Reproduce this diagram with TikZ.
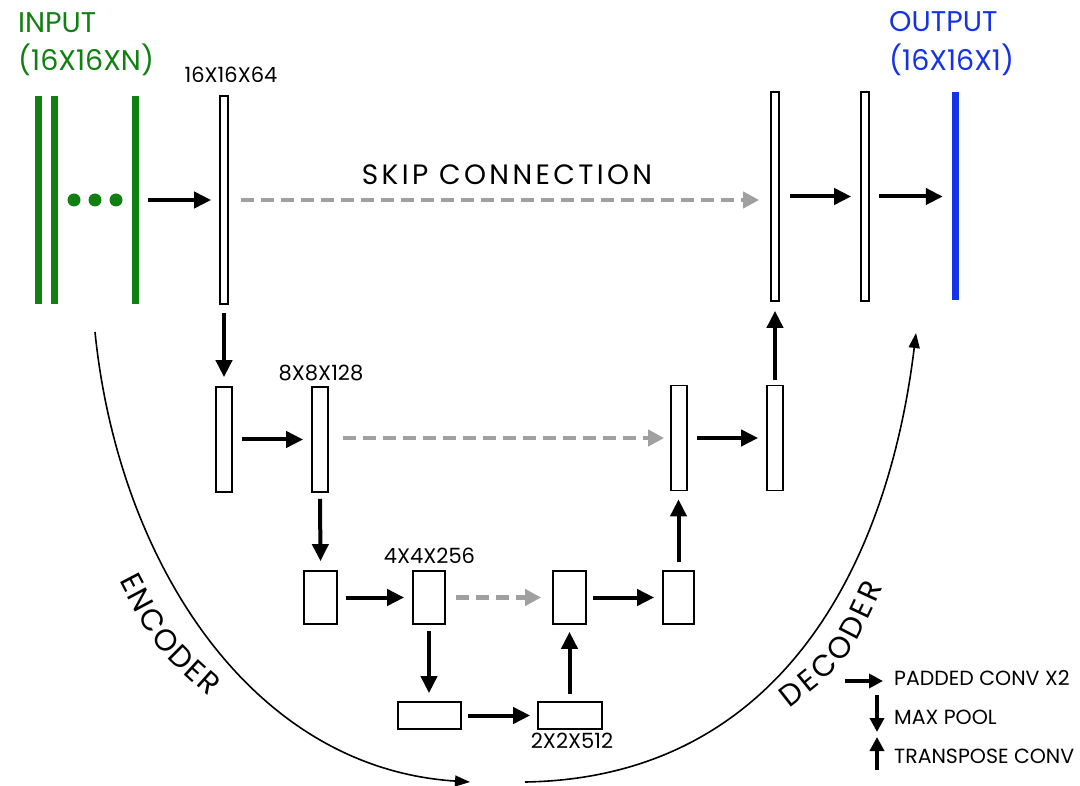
\documentclass[tikz,border=0pt]{standalone}
\usepackage{fontspec}
\setmainfont{Poppins}
\usetikzlibrary{arrows.meta,decorations.text}
\definecolor{ingreen}{RGB}{16,128,16}
\definecolor{outblue}{RGB}{20,50,230}
\definecolor{skipgray}{RGB}{160,160,160}
\begin{document}
\begin{tikzpicture}[x=1pt,y=-1pt,
  box/.style={draw, line width=1.7pt, inner sep=0pt, fill=white},
  bar/.style={draw=none, inner sep=0pt, minimum width=7pt, minimum height=208pt},
  conv/.style={line width=4pt, -{Triangle[length=17pt,width=16pt]}},
  skipline/.style={draw=skipgray, line width=4.5pt, dash pattern=on 13pt off 7pt, -{Triangle[length=16pt,width=16pt,fill=skipgray]}},
  arcline/.style={line width=1.6pt, -{Triangle[length=15pt,width=11pt]}},
  legarrow/.style={line width=4pt, -{Triangle[length=14pt,width=14pt]}},
  lbl/.style={inner sep=0pt, font=\fontsize{21}{21}\selectfont},
  big/.style={inner sep=0pt, font=\fontsize{28.5}{28.5}\selectfont},
  leg/.style={inner sep=0pt, anchor=base west, font=\fontsize{20.5}{20.5}\selectfont}]
\useasboundingbox (0,0) rectangle (1080,786);
% input bars
\node[bar, fill=ingreen] (g1) at (38.5,200) {};
\node[bar, fill=ingreen] (g2) at (54.5,200) {};
\node[bar, fill=ingreen] (g3) at (135.5,200) {};
\fill[ingreen] (74,200) circle (6.5pt) (95,200) circle (6.5pt) (116,200) circle (6.5pt);
\node[big, anchor=base west, text=ingreen] (tin1) at (18,33) {INPUT};
\node[big, anchor=base west, text=ingreen] (tin2) at (18,71) {(16X16XN)};
\node[big, anchor=base west, text=outblue] (tout1) at (889,32) {OUTPUT};
\node[big, anchor=base west, text=outblue] (tout2) at (889,71) {(16X16X1)};
% level 1
\node[box, minimum width=8pt, minimum height=208pt] (b1) at (224,200) {};
\node[box, minimum width=8pt, minimum height=209pt] (r1) at (775,196.5) {};
\node[box, minimum width=8pt, minimum height=209pt] (r2) at (865,196.5) {};
\node[bar, fill=outblue] (out) at (955.5,196) {};
% level 2
\node[box, minimum width=16pt, minimum height=105pt] (a2) at (224,439.5) {};
\node[box, minimum width=16pt, minimum height=105pt] (b2) at (320,439.5) {};
\node[box, minimum width=16pt, minimum height=105pt] (c2) at (679,438) {};
\node[box, minimum width=16pt, minimum height=105pt] (d2) at (775,438) {};
% level 3
\node[box, minimum width=33pt, minimum height=53pt] (e3) at (320.5,597.5) {};
\node[box, minimum width=32pt, minimum height=53pt] (f3) at (429,597.5) {};
\node[box, minimum width=33pt, minimum height=53pt] (g3b) at (569.5,597.5) {};
\node[box, minimum width=31pt, minimum height=53pt] (h3) at (678.5,597.5) {};
% level 4
\node[box, minimum width=63pt, minimum height=27pt] (i4) at (429.5,715.5) {};
\node[box, minimum width=64pt, minimum height=27pt] (j4) at (570,715.5) {};
% size labels
\node[lbl, anchor=base] (t1) at (231,83) {16X16X64};
\node[lbl, anchor=base] (t2) at (321,381) {8X8X128};
\node[lbl, anchor=base] (t3) at (429.5,563) {4X4X256};
\node[lbl, anchor=base] (t4) at (572,748) {2X2X512};
\node[inner sep=0pt, anchor=base, font=\fontsize{28}{28}\selectfont\addfontfeatures{LetterSpace=12}] (tskip) at (507,185) {SKIP CONNECTION};
% arrows level 1
\draw[conv] ([xshift=9pt]g3.east) -- ([xshift=-8pt]g3.east -| b1.west);
\draw[skipline] ([xshift=12pt]b1.east) -- ([xshift=-11pt]b1.east -| r1.west);
\draw[conv] ([xshift=10pt]r1.east) -- ([xshift=-9pt]r2.west);
\draw[conv] ([xshift=9pt]r2.east) -- ([xshift=-9pt]r2.east -| out.west);
% down / up
\draw[conv] ([yshift=-8pt]b1.south) -- ([yshift=9pt]a2.north);
\draw[conv] ([yshift=-6pt]b2.south) -- ([yshift=9pt]e3.north);
\draw[conv] ([yshift=-6pt]f3.south) -- ([yshift=8pt]f3.south |- i4.north);
\draw[conv] ([yshift=5pt]d2.north) -- ([yshift=-9pt]r1.south);
\draw[conv] ([yshift=8pt]h3.north) -- ([yshift=-8pt]h3.north |- c2.south);
\draw[conv] ([yshift=7pt]j4.north -| g3b.south) -- ([yshift=-7pt]g3b.south);
% level 2 arrows
\draw[conv] ([xshift=9pt]a2.east) -- ([xshift=-8pt]b2.west);
\draw[skipline] ([xshift=14pt]c2.west -| b2.east) -- ([xshift=-6pt]c2.west);
\draw[conv] ([xshift=9pt]c2.east) -- ([xshift=-8pt]d2.west);
% level 3 arrows
\draw[conv] ([xshift=8pt]e3.east) -- ([xshift=-8pt]f3.west);
\draw[skipline] ([xshift=10pt]f3.east) -- ([xshift=-11pt]g3b.west);
\draw[conv] ([xshift=6pt]g3b.east) -- ([xshift=-8pt]h3.west);
% level 4
\draw[conv] ([xshift=6pt]i4.east) -- ([xshift=-7pt]j4.west);
% encoder / decoder arcs
\coordinate (encS) at (95,332);
\coordinate (encE) at (470,782);
\coordinate (decS) at (525,782);
\coordinate (decE) at (916,333);
\draw[arcline] (encS) .. controls (118,560) and (250,768) .. (encE);
\draw[arcline] (decS) .. controls (780,778) and (888,565) .. (decE);
\path[decorate, decoration={text along path, text align=fit to path, text={|\fontsize{30}{30}\selectfont|ENCODER}}] (119,580) .. controls (155,649) .. (209,697);
\path[decorate, decoration={text along path, text align=fit to path, text={|\fontsize{30}{30}\selectfont|DECODER}}] (789,708) .. controls (849,661) .. (883,587);
% legend
\coordinate (l1a) at (845,681);
\coordinate (l1b) at (883,681);
\coordinate (l2a) at (877,695);
\coordinate (l2b) at (877,732);
\coordinate (l3a) at (877,770);
\coordinate (l3b) at (877,737);
\draw[legarrow] (l1a) -- (l1b);
\draw[legarrow] (l2a) -- (l2b);
\draw[legarrow] (l3a) -- (l3b);
\node[leg] (lg1) at (894,685) {PADDED CONV X2};
\node[leg] (lg2) at (894,724) {MAX POOL};
\node[leg] (lg3) at (894,763) {TRANSPOSE CONV};
\end{tikzpicture}
\end{document}
